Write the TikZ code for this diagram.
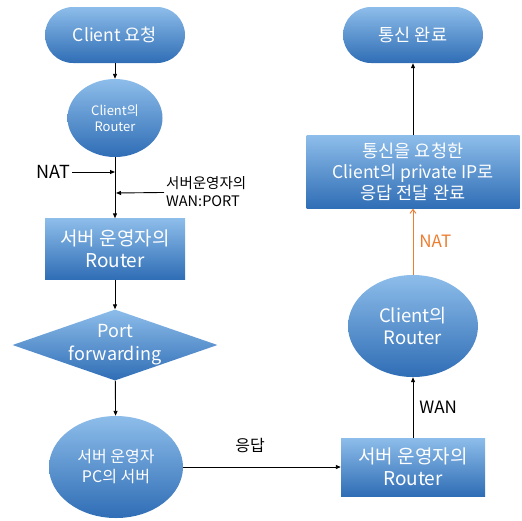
\documentclass[tikz,border=0pt]{standalone}
\usepackage{fontspec}
\setmainfont{Noto Sans CJK KR}
\usetikzlibrary{shapes.geometric,arrows.meta}
\definecolor{boxtop}{HTML}{8DBDEA}
\definecolor{boxbot}{HTML}{2F6DB5}
\definecolor{natorange}{HTML}{ED7D31}
\tikzset{
  blue fill/.style={top color=boxtop, bottom color=boxbot, draw=none,
    text=white, align=center, inner sep=0pt},
  terminal/.style={blue fill, minimum width=140pt, minimum height=56pt,
    rounded corners=28pt, font=\fontsize{17.5}{21}\selectfont},
  process/.style={blue fill, rectangle, font=\fontsize{19}{22}\selectfont},
  router/.style={blue fill, ellipse},
  pfdiamond/.style={blue fill, diamond, minimum width=205pt, minimum height=71pt},
  flow/.style={-{Triangle[length=5pt,width=4pt]}, line width=0.9pt},
  note/.style={font=\fontsize{16}{19}\selectfont, inner sep=2pt}
}
\begin{document}
\begin{tikzpicture}[x=1pt,y=-1pt]
\useasboundingbox (0,0) rectangle (522,520);

% left column: request path
\node[terminal] (req) at (115,35) {Client 요청};
\node[router, minimum width=95pt, minimum height=78pt,
  font=\fontsize{13}{16}\selectfont] (crouter) at (115,118) {Client의\\Router};
\node[process, minimum width=140pt, minimum height=61pt] (srouter) at (115,249)
  {서버 운영자의\\Router};
\node[pfdiamond] (pf) at (115,345) {};
\node[text=white, align=center, inner sep=0pt,
  font=\fontsize{18}{23}\selectfont] (pftext) at (pf.center) {Port\\forwarding};
\node[router, minimum width=134pt, minimum height=102pt,
  font=\fontsize{16}{20}\selectfont] (spc) at (116,467) {서버 운영자\\PC의 서버};

\coordinate (natin) at (115,172);
\coordinate (wanin) at (116,193);
\node[note, anchor=east, font=\fontsize{18}{21}\selectfont] (natl) at (72,172) {NAT};
\node[note, anchor=west, align=left, font=\fontsize{14.5}{18}\selectfont] (wanl)
  at (164,192) {서버운영자의\\WAN:PORT};

\draw[flow] (req) -- (crouter);
\draw[flow] (crouter) -- (srouter);
\draw[flow] (natl) -- (natin);
\draw[flow] (wanl) -- (wanin);
\draw[flow] (srouter) -- (pf);
\draw[flow] (pf) -- (spc);

% right column: response path
\node[terminal] (done) at (413,35) {통신 완료};
\node[process, minimum width=213pt, minimum height=73pt,
  font=\fontsize{17.5}{21}\selectfont] (reply) at (413,172)
  {통신을 요청한\\Client의 private IP로\\응답 전달 완료};
\node[router, minimum width=130pt, minimum height=102pt,
  font=\fontsize{18.5}{22}\selectfont] (crouter2) at (413,326) {Client의\\Router};
\node[process, minimum width=144pt, minimum height=58pt] (srouter2) at (413,467)
  {서버 운영자의\\Router};

\draw[flow] (spc) -- node[note, above=12pt, xshift=-12pt] (resp) {응답} (srouter2);
\draw[flow] (srouter2) -- node[note, right=4pt, font=\fontsize{17}{20}\selectfont] (wan) {WAN} (crouter2);
\draw[flow, draw=natorange, -{Straight Barb[length=4pt,width=6pt]}] (crouter2) --
  node[note, right=4pt, text=natorange, font=\fontsize{17}{20}\selectfont] (nat2) {NAT} (reply);
\draw[flow] (reply) -- (done);
\end{tikzpicture}
\end{document}
